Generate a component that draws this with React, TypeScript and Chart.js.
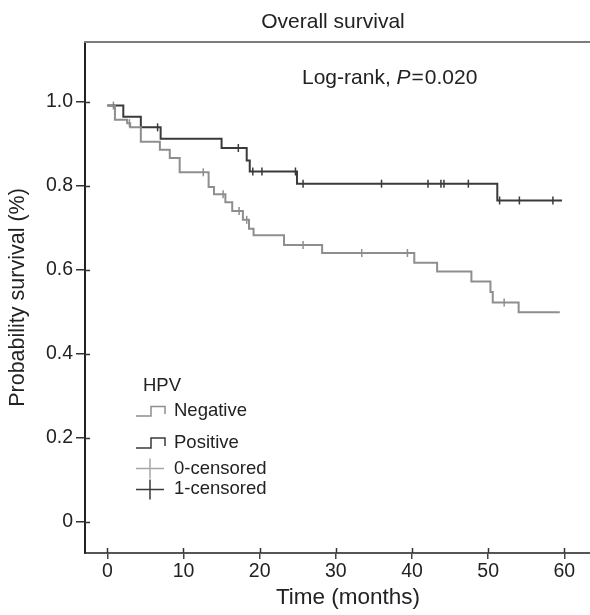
import React, { useEffect, useRef } from "react";
import { Chart, registerables } from "chart.js";

Chart.register(...registerables);

// ---- data ----
const negativeTimes = [0, 1.0, 2.6, 3.0, 4.4, 6.9, 8.2, 9.5, 13.3, 14.0, 15.5, 16.4, 17.8, 18.6, 19.2, 23.2, 28.2, 40.3, 43.3, 47.8, 50.3, 50.6, 54.0, 59.4];
const negativeSurvival = [0.991, 0.957, 0.949, 0.939, 0.905, 0.886, 0.866, 0.832, 0.797, 0.78, 0.761, 0.74, 0.719, 0.698, 0.682, 0.659, 0.64, 0.617, 0.596, 0.572, 0.547, 0.522, 0.499, 0.499];
const negativeCensorTimes = [0.8, 2.9, 12.6, 15.2, 17.3, 18.3, 25.7, 33.4, 39.4, 52.1];

const positiveTimes = [0, 2.1, 4.4, 7.0, 15.0, 18.3, 18.7, 24.9, 51.2, 59.7];
const positiveSurvival = [0.991, 0.964, 0.939, 0.912, 0.89, 0.86, 0.834, 0.805, 0.765, 0.765];
const positiveCensorTimes = [6.6, 17.2, 19.1, 20.3, 24.7, 25.7, 36.0, 42.1, 43.8, 44.2, 47.4, 51.5, 54.1, 58.5];

const xTickValues = [0, 10, 20, 30, 40, 50, 60];
const yTickValues = [0, 0.2, 0.4, 0.6, 0.8, 1.0];
const yTickLabels = ["0", "0.2", "0.4", "0.6", "0.8", "1.0"];

const chartTitle = "Overall survival";
const xAxisTitle = "Time (months)";
const yAxisTitle = "Probability survival (%)";
const testLabel = "Log-rank, ";
const pSymbol = "P";
const pValue = "0.020";
const legendTitle = "HPV";
const legendLabels = ["Negative", "Positive", "0-censored", "1-censored"];

const NEG_COLOR = "#8e8e8e";
const POS_COLOR = "#3a3a3a";
const TEXT_COLOR = "#222222";
const FONT = '"Liberation Sans", Arial, sans-serif';

function survivalAt(times: number[], surv: number[], t: number) {
  let v = surv[0];
  for (let i = 0; i < times.length; i++) {
    if (times[i] <= t) v = surv[i];
  }
  return v;
}

const decorPlugin = {
  id: "decor",
  afterDraw(chart: any) {
    const ctx = chart.ctx as CanvasRenderingContext2D;
    const { left, top, right, bottom } = chart.chartArea;
    const xs = chart.scales.x;
    const ys = chart.scales.y;
    ctx.save();
    // top frame line
    ctx.strokeStyle = "#7c7c7c";
    ctx.lineWidth = 2;
    ctx.beginPath();
    ctx.moveTo(left - 1, top);
    ctx.lineTo(right, top);
    ctx.stroke();

    // inner tick stubs
    ctx.strokeStyle = "#333";
    ctx.lineWidth = 1.5;
    for (const v of xTickValues) {
      const px = Math.round(xs.getPixelForValue(v)) + 0.5;
      ctx.beginPath();
      ctx.moveTo(px, bottom);
      ctx.lineTo(px, bottom - 5);
      ctx.stroke();
    }
    for (const v of yTickValues) {
      const py = Math.round(ys.getPixelForValue(v)) + 0.5;
      ctx.beginPath();
      ctx.moveTo(left, py);
      ctx.lineTo(left + 5, py);
      ctx.stroke();
    }

    // title
    ctx.fillStyle = TEXT_COLOR;
    ctx.textBaseline = "alphabetic";
    ctx.textAlign = "center";
    ctx.font = `21px ${FONT}`;
    ctx.fillText(chartTitle, 333, 28);

    // x axis title (centered on the original, wider plot frame)
    ctx.font = `22.5px ${FONT}`;
    ctx.fillText(xAxisTitle, 348, 604);

    // log-rank annotation
    ctx.textAlign = "left";
    let x = 302;
    const yb = 84;
    ctx.font = `21px ${FONT}`;
    ctx.fillText(testLabel, x, yb);
    x += ctx.measureText(testLabel).width;
    ctx.font = `italic 21px ${FONT}`;
    ctx.fillText(pSymbol, x, yb);
    x += ctx.measureText(pSymbol).width + 1;
    ctx.font = `21px ${FONT}`;
    ctx.fillText("=", x, yb);
    x += ctx.measureText("=").width + 1;
    ctx.fillText(pValue, x, yb);

    // legend
    ctx.font = `18.5px ${FONT}`;
    ctx.fillText(legendTitle, 143, 391);
    const drawStep = (yLow: number, yHigh: number, color: string) => {
      ctx.strokeStyle = color;
      ctx.lineWidth = 1.5;
      ctx.beginPath();
      ctx.moveTo(136, yLow);
      ctx.lineTo(151, yLow);
      ctx.lineTo(151, yHigh);
      ctx.lineTo(165, yHigh);
      ctx.lineTo(165, yLow - 2);
      ctx.stroke();
    };
    const drawCross = (cy: number, color: string) => {
      ctx.strokeStyle = color;
      ctx.lineWidth = 1.5;
      ctx.beginPath();
      ctx.moveTo(136, cy);
      ctx.lineTo(164, cy);
      ctx.moveTo(150, cy - 10);
      ctx.lineTo(150, cy + 10);
      ctx.stroke();
    };
    drawStep(416, 406.5, NEG_COLOR);
    drawStep(448, 438, POS_COLOR);
    drawCross(468.5, "#a8a8a8");
    drawCross(489.5, POS_COLOR);
    ctx.fillStyle = TEXT_COLOR;
    ctx.fillText(legendLabels[0], 174, 416);
    ctx.fillText(legendLabels[1], 174, 448);
    ctx.fillText(legendLabels[2], 174, 474);
    ctx.fillText(legendLabels[3], 174, 494);
    ctx.restore();
  },
};

export default function App() {
  const ref = useRef<HTMLCanvasElement | null>(null);
  useEffect(() => {
    if (!ref.current) return;
    const negLine = negativeTimes.map((t, i) => ({ x: t, y: negativeSurvival[i] }));
    const posLine = positiveTimes.map((t, i) => ({ x: t, y: positiveSurvival[i] }));
    const negCens = negativeCensorTimes.map((t) => ({ x: t, y: survivalAt(negativeTimes, negativeSurvival, t) }));
    const posCens = positiveCensorTimes.map((t) => ({ x: t, y: survivalAt(positiveTimes, positiveSurvival, t) }));

    const chart = new Chart(ref.current, {
      type: "line",
      data: {
        datasets: [
          { label: "Negative", data: negLine, borderColor: NEG_COLOR, borderWidth: 2, stepped: true, pointRadius: 0, fill: false },
          { label: "Positive", data: posLine, borderColor: POS_COLOR, borderWidth: 2, stepped: true, pointRadius: 0, fill: false },
          { label: "0-censored", data: negCens, showLine: false, pointStyle: "line", pointRotation: 90, pointRadius: 4, pointBorderWidth: 1.5, borderColor: NEG_COLOR, pointBorderColor: NEG_COLOR },
          { label: "1-censored", data: posCens, showLine: false, pointStyle: "line", pointRotation: 90, pointRadius: 4, pointBorderWidth: 1.5, borderColor: POS_COLOR, pointBorderColor: POS_COLOR },
        ] as any,
      },
      options: {
        animation: false,
        responsive: false,
        events: [],
        layout: { autoPadding: false, padding: { top: 42, left: 0, right: 0, bottom: 0 } },
        plugins: { legend: { display: false }, tooltip: { enabled: false }, title: { display: false } },
        scales: {
          x: {
            type: "linear",
            min: -2.93,
            max: 63.37,
            afterFit: (s: any) => { s.height = 62; s.paddingLeft = 0; s.paddingRight = 0; },
            afterBuildTicks: (s: any) => { s.ticks = xTickValues.map((v) => ({ value: v })); },
            ticks: { font: { size: 19.5, family: FONT }, color: TEXT_COLOR, padding: 1, maxRotation: 0, autoSkip: false },
            grid: { drawOnChartArea: false, drawTicks: true, tickLength: 6, color: "#444", lineWidth: 1.5 },
            border: { display: true, color: "#555", width: 2 },
            title: { display: false, text: xAxisTitle },
          },
          y: {
            type: "linear",
            min: -0.0738,
            max: 1.1421,
            afterFit: (s: any) => { s.width = 85; s.paddingTop = 0; s.paddingBottom = 0; },
            afterBuildTicks: (s: any) => { s.ticks = yTickValues.map((v) => ({ value: v })); },
            ticks: {
              font: { size: 19.5, family: FONT },
              color: TEXT_COLOR,
              padding: 3,
              autoSkip: false,
              callback: (v: any) => {
                const i = yTickValues.findIndex((t) => Math.abs(t - Number(v)) < 1e-9);
                return i >= 0 ? yTickLabels[i] : "";
              },
            },
            grid: { drawOnChartArea: false, drawTicks: true, tickLength: 9, color: "#333", lineWidth: 1.5 },
            border: { display: true, color: "#222", width: 2 },
            title: { display: true, text: yAxisTitle, font: { size: 21.5, family: FONT }, color: TEXT_COLOR, padding: { top: 5, bottom: 0 } },
          },
        },
      } as any,
      plugins: [decorPlugin],
    });
    return () => chart.destroy();
  }, []);

  return (
    <div style={{ position: "fixed", left: 0, top: 0, width: 590, height: 615, background: "#fff" }}>
      <canvas ref={ref} width={590} height={615} style={{ display: "block", width: 590, height: 615 }} />
    </div>
  );
}
